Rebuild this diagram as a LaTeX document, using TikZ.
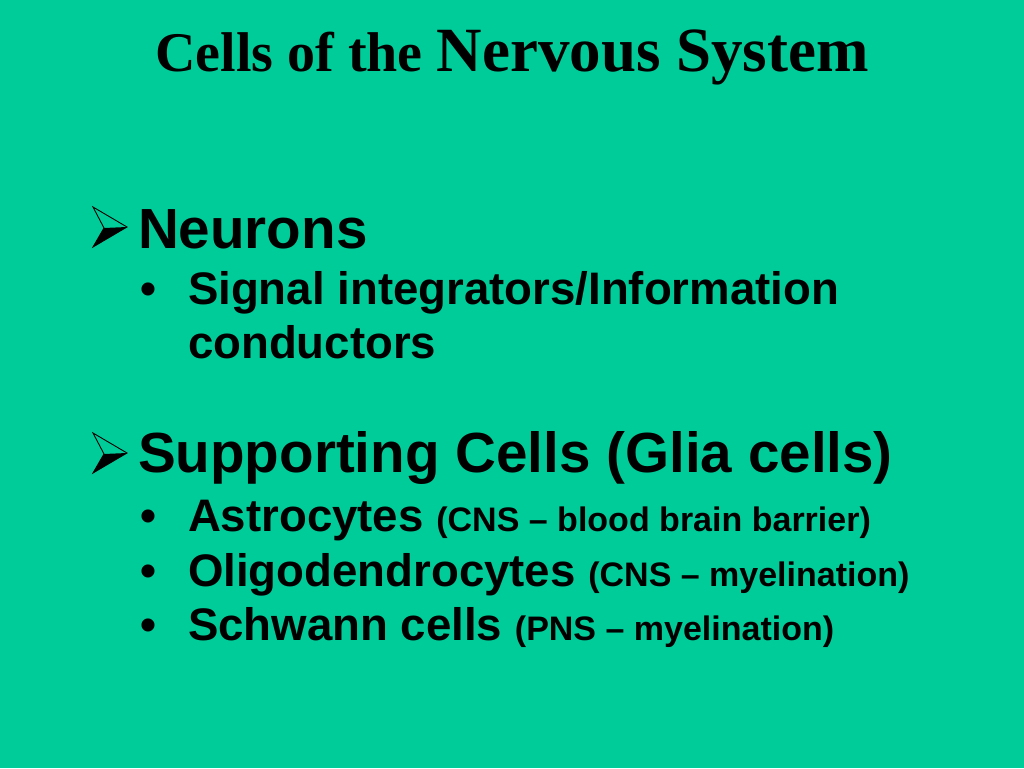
\documentclass[tikz,border=0pt]{standalone}
\usepackage{fontspec}
\setmainfont{Liberation Serif}
\setsansfont{Liberation Sans}
\usetikzlibrary{positioning}
\definecolor{slidegreen}{RGB}{0,204,153}
\tikzset{
  arrowmark/.pic={
    \draw[line width=0.9pt,line join=miter] (0,-20) -- (34,0) -- (0,20) -- (11,1) -- cycle;
    \fill (11,1) -- (34,0) -- (0,20) -- cycle;
  }
}

\begin{document}
\begin{tikzpicture}[x=1pt,y=-1pt,
  every node/.style={inner sep=0pt,outer sep=0pt},
  head/.style={anchor=base west,font=\sffamily\bfseries\fontsize{56.6}{67}\selectfont},
  item/.style={anchor=base west,font=\sffamily\bfseries\fontsize{45.6}{54}\selectfont},
  dot/.style={anchor=base,font=\sffamily\bfseries\fontsize{45.6}{54}\selectfont}]
\fill[slidegreen] (0,0) rectangle (1024,768);
\useasboundingbox (0,0) rectangle (1024,768);

% title
\node (title) [anchor=base,font=\rmfamily\bfseries] at (512,71)
  {{\fontsize{56}{68}\selectfont Cells of the }{\fontsize{63}{75}\selectfont Nervous System}};

% neurons
\pic at (93,227) {arrowmark};
\node (neurons) [head] at (138,248) {Neurons};
\node (d1) [dot] at (148,304) {•};
\node (signal) [item] at (188,304) {Signal integrators/Information};
\node (conduct) [item] at (188,358) {conductors};

% glia
\pic at (93,453) {arrowmark};
\node (glia) [head] at (138,472) {Supporting Cells (Glia cells)};
\node (d2) [dot] at (148,531) {•};
\node (astro) [item] at (188,531) {Astrocytes {\fontsize{34}{40}\selectfont(CNS – blood brain barrier)}};
\node (d3) [dot] at (148,586) {•};
\node (oligo) [item] at (188,586) {Oligodendrocytes {\fontsize{34}{40}\selectfont(CNS – myelination)}};
\node (d4) [dot] at (148,640) {•};
\node (schwann) [item] at (188,640) {Schwann cells {\fontsize{34}{40}\selectfont(PNS – myelination)}};
\end{tikzpicture}
\end{document}
